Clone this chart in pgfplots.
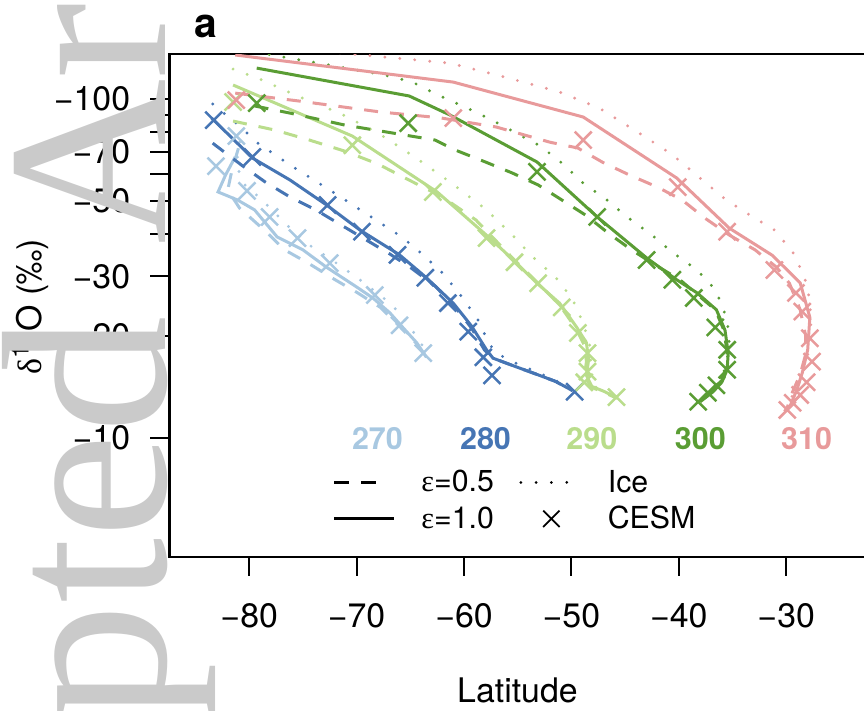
\documentclass[border=0pt]{standalone}
\usepackage{fontspec}
\setmainfont{TeX Gyre Heros}
\newfontfamily\symfont{Liberation Serif}
\newfontfamily\wmfont{Liberation Serif}
\usepackage{pgfplots}
\pgfplotsset{compat=1.18}

\definecolor{c270}{RGB}{168,200,225}
\definecolor{c280}{RGB}{70,117,180}
\definecolor{c290}{RGB}{186,221,140}
\definecolor{c300}{RGB}{90,157,52}
\definecolor{c310}{RGB}{232,154,155}
\definecolor{wm}{RGB}{202,202,202}

\pgfplotsset{
  eps05/.style={no markers, line width=1.5bp, dash pattern=on 7bp off 6bp, forget plot},
  eps10/.style={no markers, line width=1.5bp, solid, forget plot},
  ice/.style={no markers, line width=1.6bp, line cap=round, dash pattern=on 0bp off 7.5bp, forget plot},
  cesm/.style={only marks, mark=x, mark size=6bp, mark options={line width=1.25bp, solid}, forget plot},
}

\begin{document}
\begin{tikzpicture}
\useasboundingbox (0,0) rectangle (432bp,-355.5bp);
\begin{axis}[
  at={(84.75bp,-278.35bp)}, anchor=south west,
  scale only axis, width=348.2bp, height=251.35bp,
  xmin=-87.42, xmax=-22.58,
  ymode=log, ymin=4.465, ymax=135.8,
  axis line style={line width=1.2bp},
  tick align=outside, xtick pos=bottom, ytick pos=left,
  major tick length=9.5bp, minor tick length=9.5bp,
  every tick/.style={black, line width=1bp},
  minor tick style={black, line width=1bp},
  xtick={-80,-70,-60,-50,-40,-30},
  xticklabels={−80,−70,−60,−50,−40,−30},
  ytick={10,20,30,50,70,100},
  yticklabels={−10,−20,−30,−50,−70,−100},
  minor ytick={40,60,80,90},
  tick label style={font=\fontsize{17}{20}\selectfont},
  xticklabel style={anchor=north, inner sep=0pt, yshift=-13.6bp},
  yticklabel style={anchor=east, inner sep=0pt, xshift=-10bp},
  xlabel={Latitude},
  xlabel style={at={(axis description cs:0.4996,-0.265)}, anchor=center, font=\fontsize{17}{20}\selectfont},
  ylabel={{\symfont δ}\textsuperscript{18}O (‰)},
  ylabel style={at={(axis description cs:-0.2003,0.497)}, anchor=center, font=\fontsize{17}{20}\selectfont},
  legend columns=2,
  legend cell align=left,
  legend style={at={(axis cs:-72.21,8.05)}, anchor=north west, draw=none, fill=none,
    inner sep=0pt, outer sep=0pt, column sep=0pt, row sep=5.5bp,
    nodes={inner sep=0pt}, font=\fontsize{15.2}{18}\selectfont},
]

% legend keys
\addlegendimage{black, legend image code/.code={
  \draw[black, line width=1.5bp, dash pattern=on 7.5bp off 6bp] (0bp,0bp) -- (21bp,0bp);
  \path[draw=none, fill=none] (0bp,0bp) -- (43.5bp,0bp);}}
\addlegendentry{\makebox[49bp][l]{{\symfont ε}=0.5}}
\addlegendimage{black, legend image code/.code={
  \draw[black, line width=1.5bp, line cap=round, dash pattern=on 0bp off 7.65bp] (0bp,0bp) -- (23.5bp,0bp);
  \path[draw=none, fill=none] (0bp,0bp) -- (43.5bp,0bp);}}
\addlegendentry{Ice}
\addlegendimage{black, legend image code/.code={
  \draw[black, line width=1.5bp] (0bp,0bp) -- (30bp,0bp);
  \path[draw=none, fill=none] (0bp,0bp) -- (43.5bp,0bp);}}
\addlegendentry{\makebox[49bp][l]{{\symfont ε}=1.0}}
\addlegendimage{black, legend image code/.code={
  \path[draw=none, fill=none] (0bp,0bp) -- (43.5bp,0bp);
  \draw[black, solid, line width=0.9bp] (15.25bp,0bp) +(-4.1bp,-4.1bp) -- +(4.1bp,4.1bp) +(-4.1bp,4.1bp) -- +(4.1bp,-4.1bp);}}
\addlegendentry{CESM}

% ---- 270 ----
\addplot[c270, eps10] coordinates {(-81.3,67.5) (-82.2,59.7) (-82.9,53.2) (-81.1,50.4) (-79.5,47.1) (-77.4,39.2) (-75.0,35.9) (-72.8,31.9) (-70.0,27.9) (-68.5,25.9) (-66.9,23.4) (-65.7,21.2) (-64.4,19.1) (-63.5,17.3)};
\addplot[c270, eps05] coordinates {(-81.0,71.6) (-81.6,61.8) (-82.0,53.9) (-80.9,47.7) (-78.5,40.8) (-76.7,35.9) (-74.5,32.8) (-72.0,29.3) (-69.9,26.8) (-67.8,24.3) (-66.1,21.5) (-64.5,19.1) (-63.5,17.3)};
\addplot[c270, ice] coordinates {(-80.9,74.6) (-81.2,63.8) (-80.4,55.8) (-78.8,50.4) (-76.5,42.5) (-74.4,37.1) (-72.0,33.0) (-69.7,29.3) (-67.5,25.9) (-66.1,23.6) (-65.0,21.2) (-63.9,18.8) (-63.2,17.3)};
\addplot[c270, cesm] coordinates {(-81.2,77.8) (-83.1,63.4) (-80.2,53.6) (-78.1,44.9) (-75.5,38.9) (-72.5,32.8) (-68.3,26.4) (-66.0,21.5) (-63.8,17.8)};

% ---- 280 ----
\addplot[c280, eps10] coordinates {(-83.5,87.9) (-79.7,67.0) (-76.2,57.7) (-72.8,48.7) (-69.7,41.1) (-66.0,34.7) (-63.5,29.7) (-61.0,25.0) (-59.3,21.4) (-57.9,18.2) (-57.3,17.2) (-55.1,16.2) (-53.2,15.4) (-51.5,14.7) (-49.9,13.8)};
\addplot[c280, eps05] coordinates {(-83.4,74.1) (-80.7,63.8) (-78.5,56.9) (-76.2,51.4) (-73.8,47.1) (-71.6,42.8) (-69.4,38.9) (-66.9,34.9) (-64.9,31.7) (-62.7,28.1) (-60.8,24.3) (-59.3,21.1) (-58.1,18.2) (-57.3,17.2) (-55.1,16.2) (-53.2,15.4) (-51.5,14.7) (-49.9,13.8)};
\addplot[c280, ice] coordinates {(-83.4,96.7) (-81.0,83.8) (-79.2,74.1) (-75.9,63.0) (-72.5,53.9) (-69.2,46.1) (-65.8,39.2) (-63.8,34.7) (-62.0,30.7) (-60.2,26.1) (-58.7,22.3) (-57.6,18.8) (-56.7,17.6) (-55.5,16.8) (-53.1,15.6) (-51.5,14.8) (-49.9,13.9)};
\addplot[c280, cesm] coordinates {(-83.3,86.7) (-79.7,67.5) (-72.7,48.7) (-69.5,40.6) (-66.2,34.7) (-63.6,29.7) (-61.5,25.0) (-59.6,20.6) (-58.2,17.3) (-57.4,15.3) (-49.7,13.7)};

% ---- 290 ----
\addplot[c290, eps10] coordinates {(-81.5,110.0) (-70.4,77.8) (-62.5,53.2) (-57.6,38.9) (-55.4,33.5) (-53.2,28.6) (-51.1,25.0) (-49.5,21.2) (-48.6,19.1) (-48.4,17.0) (-48.6,15.3) (-48.1,14.2) (-46.9,13.7) (-45.7,13.1)};
\addplot[c290, eps05] coordinates {(-81.5,86.1) (-77.6,81.0) (-74.4,75.7) (-71.1,70.2) (-68.0,64.3) (-65.5,58.5) (-62.0,51.4) (-58.9,44.0) (-57.1,38.4) (-55.3,33.5) (-53.1,28.6) (-51.1,24.7) (-49.6,21.1) (-48.8,18.8) (-48.6,16.8) (-48.8,15.2) (-48.1,14.1) (-46.9,13.6) (-46.0,13.2)};
\addplot[c290, ice] coordinates {(-81.5,122.6) (-78.8,113.8) (-75.3,101.4) (-71.6,90.9) (-68.0,79.4) (-64.6,67.5) (-61.3,56.9) (-57.9,47.1) (-55.4,39.4) (-53.6,34.2) (-51.5,29.9) (-49.9,25.7) (-48.9,21.8) (-48.3,18.8) (-48.2,16.8) (-48.4,15.2) (-47.9,14.2) (-46.8,13.7) (-45.8,13.1)};
\addplot[c290, cesm] coordinates {(-81.5,98.0) (-70.4,73.1) (-62.9,53.2) (-57.9,38.9) (-55.3,33.0) (-53.1,28.6) (-50.9,24.3) (-49.4,20.4) (-48.5,17.8) (-48.5,15.7) (-48.8,14.6) (-45.8,13.2)};

% ---- 300 ----
\addplot[c300, eps10] coordinates {(-79.3,123.4) (-65.1,102.1) (-61.3,89.7) (-53.2,65.2) (-47.6,44.9) (-43.0,34.0) (-40.2,29.3) (-38.3,26.8) (-36.5,23.9) (-35.7,20.8) (-35.4,17.8) (-35.5,15.9) (-36.0,14.6) (-36.8,13.7) (-38.0,12.8)};
\addplot[c300, eps05] coordinates {(-79.5,95.4) (-76.2,90.9) (-71.1,83.8) (-65.5,78.3) (-62.7,75.7) (-60.8,70.7) (-58.0,65.2) (-55.5,60.5) (-53.1,55.8) (-50.9,50.4) (-48.7,45.5) (-46.6,40.3) (-44.4,35.9) (-42.2,32.4) (-39.9,29.3) (-36.6,23.9) (-35.8,20.8) (-35.5,17.9) (-35.6,15.9) (-36.2,14.6) (-37.0,13.7) (-38.0,12.8)};
\addplot[c300, ice] coordinates {(-80.9,139.5) (-77.9,134.9) (-72.5,125.9) (-67.4,117.7) (-64.8,112.2) (-62.4,102.7) (-59.9,94.7) (-57.6,87.3) (-55.3,79.9) (-52.9,72.7) (-50.9,64.8) (-48.9,56.5) (-46.7,50.4) (-44.7,44.6) (-42.5,39.7) (-40.5,35.1) (-38.3,31.3) (-36.6,27.4) (-36.0,24.7) (-35.5,22.3) (-35.3,19.5) (-35.5,16.8) (-36.0,15.0) (-36.8,13.9) (-37.8,12.9)};
\addplot[c300, cesm] coordinates {(-79.3,97.3) (-65.2,84.9) (-53.2,61.0) (-47.6,44.9) (-43.0,33.5) (-40.6,29.3) (-38.6,25.9) (-36.6,21.2) (-35.5,18.2) (-35.5,15.9) (-36.5,14.3) (-37.3,13.6) (-38.2,12.8)};

% ---- 310 ----
\addplot[c310, eps10] coordinates {(-81.3,134.9) (-61.0,112.2) (-48.9,88.5) (-40.2,58.5) (-35.3,41.6) (-31.3,34.6) (-28.7,28.7) (-27.8,22.7) (-28.0,18.2) (-28.5,15.6) (-29.0,13.9) (-29.7,12.3)};
\addplot[c310, eps05] coordinates {(-81.3,104.1) (-75.3,98.6) (-67.8,91.6) (-62.2,88.0) (-57.0,82.7) (-52.0,74.6) (-49.4,71.7) (-47.1,65.1) (-44.6,59.7) (-42.0,55.0) (-39.7,50.4) (-37.6,44.6) (-35.3,39.7) (-32.9,35.9) (-30.9,31.9) (-29.7,28.6) (-28.7,23.9) (-28.2,20.1) (-28.2,17.6) (-28.7,15.4) (-29.4,13.7) (-29.9,12.3)};
\addplot[c310, ice] coordinates {(-77.1,142.3) (-69.4,134.9) (-61.3,127.6) (-56.2,116.1) (-51.1,104.9) (-47.4,94.0) (-44.0,80.5) (-40.7,68.9) (-37.7,57.3) (-35.6,50.4) (-33.4,45.5) (-31.1,41.1) (-29.4,35.4) (-28.3,29.9) (-27.8,25.5) (-27.7,20.8) (-28.0,17.6) (-28.6,15.0) (-29.4,13.4) (-29.9,12.3)};
\addplot[c310, cesm] coordinates {(-81.2,99.3) (-61.0,87.9) (-48.9,75.7) (-40.1,55.0) (-35.5,40.6) (-31.1,31.3) (-29.1,26.8) (-28.5,23.6) (-27.8,19.7) (-27.6,16.8) (-28.1,14.6) (-28.7,13.4) (-29.4,12.7) (-29.9,12.1)};

% temperature labels
\node[text=c270, font=\bfseries\fontsize{15.3}{18}\selectfont] at (axis cs:-68.06,9.93) {270};
\node[text=c280, font=\bfseries\fontsize{15.3}{18}\selectfont] at (axis cs:-58.0,9.93) {280};
\node[text=c290, font=\bfseries\fontsize{15.3}{18}\selectfont] at (axis cs:-48.1,9.93) {290};
\node[text=c300, font=\bfseries\fontsize{15.3}{18}\selectfont] at (axis cs:-38.0,9.93) {300};
\node[text=c310, font=\bfseries\fontsize{15.3}{18}\selectfont] at (axis cs:-28.1,9.93) {310};
\end{axis}

% panel letter
\node[anchor=base west, inner sep=0pt, font=\bfseries\fontsize{20.5}{24}\selectfont] at (97bp,-18.5bp) {a};

% journal watermark
\node[rotate=90, anchor=base west, inner sep=0pt, text=wm, font=\wmfont\fontsize{115}{115}\selectfont] at (82.5bp,-122.5bp) {Article};
\node[rotate=90, anchor=base east, inner sep=0pt, text=wm, font=\wmfont\fontsize{118}{118}\selectfont] at (82.5bp,-158bp) {Accepted};
\end{tikzpicture}
\end{document}
